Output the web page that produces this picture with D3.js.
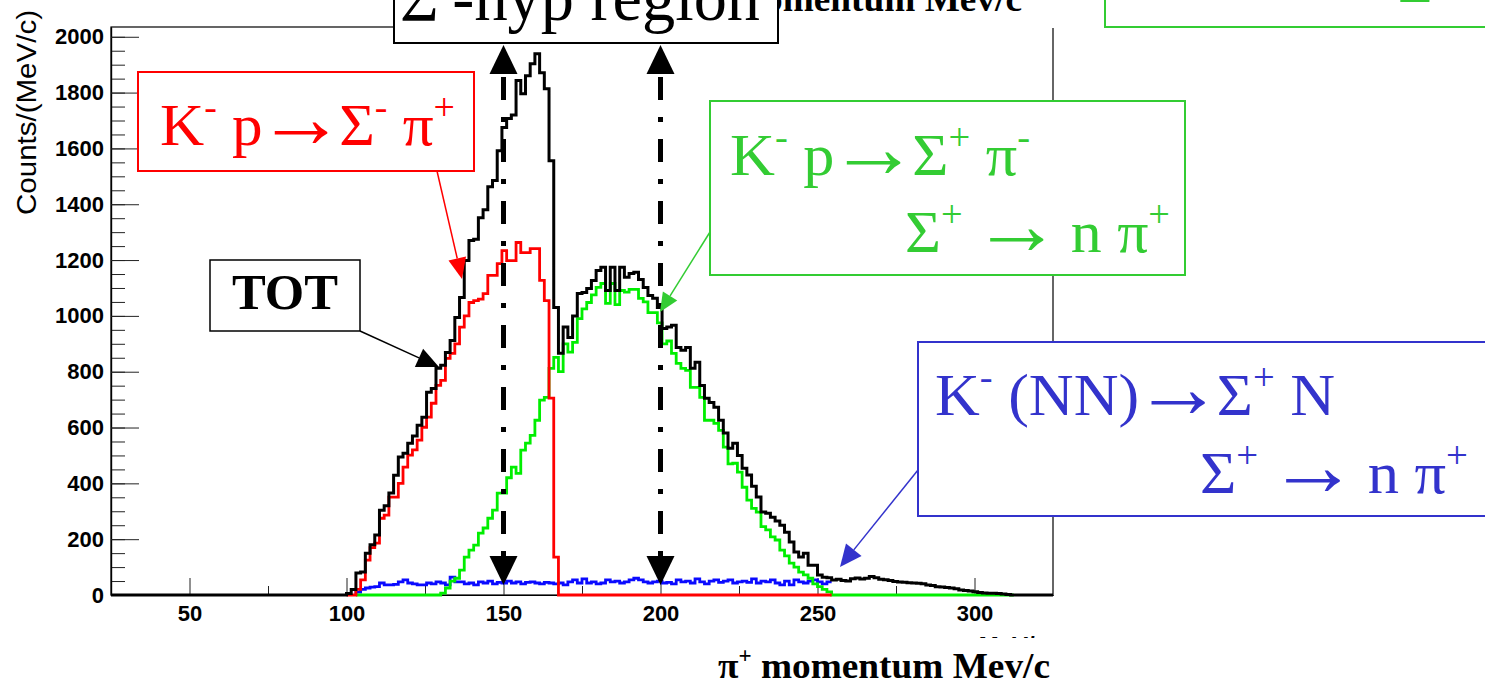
<!DOCTYPE html>
<html>
<head>
<meta charset="utf-8">
<script src="https://cdn.jsdelivr.net/npm/d3@7"></script>
<style>
  html, body { margin: 0; padding: 0; background: #fff; }
  svg { display: block; }
</style>
</head>
<body>
<svg id="chart" width="1485" height="687"></svg>
<script>
// ---- histogram binning (pi+ momentum, MeV/c) ----
const binWidth = 1.5;
const xDomain = [25, 325];
const yDomain = [0, 2035];
const xTickValues = [50, 100, 150, 200, 250, 300];
const xMinorTicks = [75, 125, 175, 225, 275];
const yTickValues = [0, 200, 400, 600, 800, 1000, 1200, 1400, 1600, 1800, 2000];
const yMinorTicks = d3.range(0, 2001, 50);
const regionEdges = [150, 200];

// TOT: all channels together
const totStart = 100.0;
const totValues = [
  5, 20, 79, 82, 150, 180, 215, 304, 320, 365,
  429, 494, 508, 544, 570, 608, 637, 726, 740, 812,
  823, 869, 912, 994, 1066, 1198, 1270, 1275, 1352, 1380,
  1463, 1485, 1592, 1675, 1707, 1720, 1843, 1796, 1860, 1903,
  1939, 1871, 1814, 1556, 1030, 866, 960, 923, 1000, 1080,
  1084, 1098, 1127, 1163, 1174, 1091, 1174, 1091, 1174, 1138,
  1152, 1156, 1130, 1102, 1073, 1063, 1030, 955, 960, 966,
  887, 877, 887, 812, 834, 751, 705, 690, 673, 626,
  580, 526, 544, 500, 454, 430, 390, 351, 297, 293,
  279, 265, 250, 225, 190, 154, 136, 150, 107, 107,
  72, 64, 62, 54, 56, 52, 50, 58, 61, 57,
  60, 66, 62, 56, 55, 52, 48, 47, 46, 44,
  43, 42, 40, 36, 34, 30, 29, 27, 25, 22,
  18, 16, 14, 12, 9, 7, 6, 6, 5, 4,
  2
];

// K- p -> Sigma- pi+
const sigMinusStart = 100.0;
const sigMinusValues = [
  0, 0, 20, 54, 125, 170, 186, 275, 286, 351,
  351, 400, 458, 501, 520, 555, 601, 637, 687, 751,
  769, 848, 866, 900, 960, 1000, 1048, 1055, 1060, 1080,
  1145, 1145, 1187, 1234, 1198, 1198, 1263, 1227, 1227, 1241,
  1241, 1127, 1055, 705, 136, 0
];

// K- p -> Sigma+ pi-, Sigma+ -> n pi+
const sigPlusStart = 128.5;
const sigPlusValues = [
  0, 7, 25, 50, 60, 89, 136, 161, 179, 222,
  240, 275, 304, 365, 365, 420, 458, 436, 519, 544,
  572, 626, 698, 708, 812, 851, 800, 900, 870, 905,
  990, 1025, 1048, 1075, 1102, 1116, 1045, 1116, 1040, 1091,
  1085, 1095, 1095, 1063, 1050, 1012, 1012, 975, 900, 910,
  866, 830, 812, 805, 744, 744, 708, 626, 626, 615,
  590, 530, 470, 472, 440, 386, 340, 310, 297, 245,
  233, 208, 197, 161, 140, 114, 100, 82, 72, 60,
  40, 30, 20, 11
];

// K- (NN) -> Sigma+ N, Sigma+ -> n pi+
const nnStart = 103.0;
const nnValues = [
  10, 20, 25, 28, 30, 43, 36, 36, 38, 47,
  54, 43, 40, 36, 36, 43, 40, 47, 43, 36,
  64, 47, 47, 40, 43, 36, 47, 43, 50, 40,
  45, 43, 50, 43, 47, 40, 45, 47, 43, 40,
  45, 43, 40, 43, 36, 47, 54, 43, 58, 43,
  47, 40, 43, 54, 47, 50, 43, 47, 54, 60,
  54, 47, 43, 47, 50, 43, 45, 40, 54, 47,
  50, 43, 58, 47, 40, 50, 54, 45, 50, 54,
  43, 47, 50, 45, 58, 43, 50, 47, 54, 43,
  36, 50, 36, 54, 47, 43, 50, 54, 47, 40,
  47
];

const SERIF = "'Liberation Serif', 'Times New Roman', serif";
const SANS = "'Liberation Sans', Arial, Helvetica, sans-serif";

const svg = d3.select('#chart');
const plot = { left: 111, right: 1053, top: 27, bottom: 595 };

const x = d3.scaleLinear().domain(xDomain).range([plot.left, plot.right]);
const y = d3.scaleLinear().domain(yDomain).range([plot.bottom, plot.top]);

// ---- frame ----
svg.append('rect')
  .attr('x', plot.left).attr('y', plot.top)
  .attr('width', plot.right - plot.left).attr('height', plot.bottom - plot.top)
  .attr('fill', 'none').attr('stroke', '#000').attr('stroke-width', 1.2);

// ---- axes (ticks point into the frame) ----
const yAxis = d3.axisLeft(y).tickValues(yTickValues).tickSize(-28).tickSizeOuter(0).tickPadding(7)
  .tickFormat(d3.format('d'));
const yAxisMinor = d3.axisLeft(y).tickValues(yMinorTicks).tickSize(-14).tickSizeOuter(0).tickFormat('');
const xAxis = d3.axisBottom(x).tickValues(xTickValues).tickSize(-17).tickSizeOuter(0).tickPadding(10)
  .tickFormat(d3.format('d'));
const xAxisMinor = d3.axisBottom(x).tickValues(xMinorTicks).tickSize(-9).tickSizeOuter(0).tickFormat('');

function styleAxis(g) {
  g.select('.domain').attr('stroke', '#000').attr('stroke-width', 1.2);
  g.selectAll('.tick line').attr('stroke', '#222').attr('stroke-width', 1);
  g.selectAll('.tick text').attr('fill', '#000')
    .attr('font-family', SANS).attr('font-size', 22).attr('font-weight', 'bold');
}

svg.append('g').attr('transform', `translate(${plot.left},0)`).call(yAxisMinor).call(styleAxis);
svg.append('g').attr('transform', `translate(${plot.left},0)`).call(yAxis).call(styleAxis);
svg.append('g').attr('transform', `translate(0,${plot.bottom})`).call(xAxisMinor).call(styleAxis);
svg.append('g').attr('transform', `translate(0,${plot.bottom})`).call(xAxis).call(styleAxis);

// y-axis title
svg.append('text')
  .attr('transform', 'translate(36,10) rotate(-90)')
  .attr('text-anchor', 'end')
  .attr('font-family', SANS).attr('font-size', 27)
  .attr('textLength', 205).attr('lengthAdjust', 'spacingAndGlyphs')
  .text('Counts/(MeV/c)');

// ROOT axis title peeking out below the tick labels
svg.append('text')
  .attr('x', 1048).attr('y', 654).attr('text-anchor', 'end')
  .attr('font-family', SANS).attr('font-size', 24).attr('font-weight', 'bold')
  .text('MeV/c');
svg.append('rect').attr('x', 940).attr('y', 638).attr('width', 140).attr('height', 60).attr('fill', '#fff');

// ---- histograms ----
svg.append('clipPath').attr('id', 'plotClip')
  .append('rect').attr('x', plot.left).attr('y', 0)
  .attr('width', plot.right - plot.left).attr('height', plot.bottom + 3);

function stepPoints(start, values, lo, hi, closeEnd) {
  const pts = [[lo, 0]];
  if (start > lo) pts.push([start, 0]);
  values.forEach((v, i) => {
    const e = start + i * binWidth;
    pts.push([e, v], [e + binWidth, v]);
  });
  const end = start + values.length * binWidth;
  if (closeEnd) {
    pts.push([end, 0]);
    if (hi > end) pts.push([hi, 0]);
  }
  return pts;
}

const line = d3.line().x(d => x(d[0])).y(d => y(d[1]));
const hg = svg.append('g').attr('clip-path', 'url(#plotClip)');

const series = [
  { pts: stepPoints(nnStart, nnValues, nnStart, 254.5, false), color: '#0a0aff', w: 2.8 },
  { pts: stepPoints(sigPlusStart, sigPlusValues, 103, 312.5, true), color: '#00ee00', w: 2.8 },
  { pts: stepPoints(sigMinusStart, sigMinusValues, 100, 254.5, true), color: '#ff0000', w: 2.8 },
  { pts: stepPoints(totStart, totValues, xDomain[0], xDomain[1], true), color: '#000000', w: 3 }
];
series.forEach(s => {
  hg.append('path').attr('d', line(s.pts))
    .attr('fill', 'none').attr('stroke', s.color).attr('stroke-width', s.w)
    .attr('stroke-linejoin', 'miter');
});

// ---- helpers for annotations ----
// parts: plain strings, ['x'] for superscripts, {arrow: '→'} for an enlarged arrow glyph
function richText(parent, o, parts) {
  const t = parent.append('text')
    .attr('x', o.x).attr('y', o.y)
    .attr('font-family', o.family || SERIF)
    .attr('font-size', o.size)
    .attr('font-weight', o.weight || 'normal')
    .attr('fill', o.color || '#000')
    .attr('text-anchor', o.anchor || 'start');
  let shift = 0;
  let afterArrow = false;
  parts.forEach(p => {
    const sup = Array.isArray(p);
    const isArrow = p && p.arrow;
    const s = sup ? p[0] : (isArrow ? p.arrow : p);
    let target = 0, fs = o.size;
    if (sup) { target = -o.size * 0.42; fs = o.size * 0.62; }
    if (isArrow) { fs = o.size * 1.45; target = o.size * 0.04; }
    const ts = t.append('tspan')
      .attr('dy', target - shift)
      .attr('font-size', fs)
      .text(s);
    if (isArrow || afterArrow) ts.attr('dx', -o.size * 0.1);
    afterArrow = !!isArrow;
    shift = target;
  });
  if (o.width) t.attr('textLength', o.width).attr('lengthAdjust', 'spacingAndGlyphs');
  return t;
}

function arrowTo(parent, x1, y1, x2, y2, color, headLen, headW, lw) {
  const dx = x2 - x1, dy = y2 - y1, L = Math.hypot(dx, dy);
  const ux = dx / L, uy = dy / L;
  const bx = x2 - ux * headLen, by = y2 - uy * headLen;
  parent.append('line').attr('x1', x1).attr('y1', y1).attr('x2', bx).attr('y2', by)
    .attr('stroke', color).attr('stroke-width', lw);
  parent.append('polygon')
    .attr('points', [[x2, y2], [bx - uy * headW / 2, by + ux * headW / 2], [bx + uy * headW / 2, by - ux * headW / 2]].map(p => p.join(',')).join(' '))
    .attr('fill', color);
}

function box(parent, x0, y0, x1, y1, color, lw) {
  parent.append('rect').attr('x', x0).attr('y', y0).attr('width', x1 - x0).attr('height', y1 - y0)
    .attr('fill', '#fff').attr('stroke', color).attr('stroke-width', lw);
}

const ann = svg.append('g');
const ARR = { arrow: '→' };

// Sigma- hyperon window: dash-dotted double arrows at the edges
regionEdges.forEach(p => {
  const cx = x(p);
  ann.append('line').attr('x1', cx).attr('x2', cx).attr('y1', 74).attr('y2', 557)
    .attr('stroke', '#000').attr('stroke-width', 5)
    .attr('stroke-dasharray', '23 17 5 17').attr('stroke-dashoffset', -3);
  ann.append('polygon').attr('points', `${cx},45 ${cx - 14},74 ${cx + 14},74`).attr('fill', '#000');
  ann.append('polygon').attr('points', `${cx},585 ${cx - 14},556 ${cx + 14},556`).attr('fill', '#000');
});

// x-axis title
richText(ann, { x: 718, y: 678, size: 36, weight: 'bold', width: 332 }, ['π', ['+'], ' momentum Mev/c']);

// TOT label
arrowTo(ann, 360, 331, 439, 367, '#000', 22, 20, 1.5);
box(ann, 210, 260, 360, 331, '#000', 1.5);
richText(ann, { x: 285, y: 309, size: 50, weight: 'bold', anchor: 'middle', width: 106 }, ['TOT']);

// K- p -> Sigma- pi+
arrowTo(ann, 437, 171, 462, 279, '#ff0000', 21, 18, 1.5);
box(ann, 138, 72, 474, 171, '#ff0000', 2);
richText(ann, { x: 160, y: 145, size: 60, color: '#ff0000', width: 295 },
  ['K', ['-'], ' p', ARR, 'Σ', ['-'], ' π', ['+']]);

// K- p -> Sigma+ pi-
arrowTo(ann, 710, 232, 660, 312, '#33cc33', 19, 17, 1.5);
box(ann, 710, 101, 1185, 275, '#33cc33', 2);
richText(ann, { x: 730, y: 175, size: 60, color: '#33cc33', width: 300 },
  ['K', ['-'], ' p', ARR, 'Σ', ['+'], ' π', ['-']]);
richText(ann, { x: 905, y: 252, size: 60, color: '#33cc33', width: 265 },
  ['Σ', ['+'], ' ', ARR, ' n π', ['+']]);

// K- (NN) -> Sigma+ N
arrowTo(ann, 918, 470, 840, 567, '#3333cc', 22, 20, 1.5);
box(ann, 918, 342, 1495, 516, '#3333cc', 2);
richText(ann, { x: 935, y: 415, size: 60, color: '#3333cc', width: 400 },
  ['K', ['-'], ' (NN)', ARR, 'Σ', ['+'], ' N']);
richText(ann, { x: 1200, y: 493, size: 60, color: '#3333cc', width: 268 },
  ['Σ', ['+'], ' ', ARR, ' n π', ['+']]);

// duplicated axis title along the top edge
ann.append('rect').attr('x', 779).attr('y', 0).attr('width', 290).attr('height', 28).attr('fill', '#fff');
richText(ann, { x: 1022, y: 11, size: 36, weight: 'bold', anchor: 'end', width: 332 }, ['π', ['+'], ' momentum Mev/c']);

// upper-right label box
box(ann, 1105, -10, 1495, 27, '#33cc33', 2);
richText(ann, { x: 1398, y: 2, size: 60, color: '#33cc33' }, ['Σ']);

// Sigma- hyperon region title
box(ann, 394, -10, 778, 43, '#000', 2);
richText(ann, { x: 400, y: 20, size: 68, width: 360 }, ['Σ', ['-'], '-hyp region']);
</script>
</body>
</html>
